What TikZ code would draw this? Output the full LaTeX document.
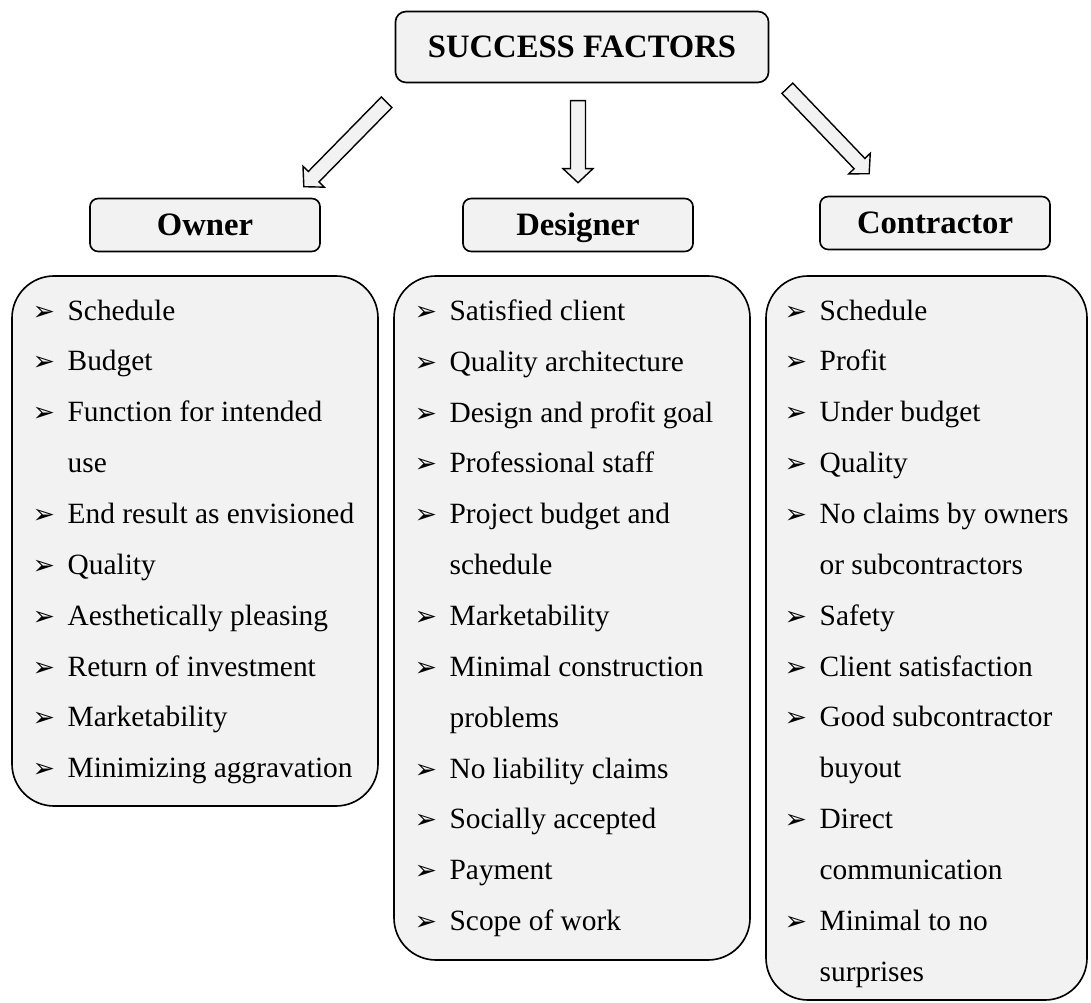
\documentclass[tikz,border=0pt]{standalone}
\usepackage{fontspec}
\setmainfont{Liberation Serif}
\newfontfamily\bulfont{DejaVu Sans}
\usepackage{xcolor}
\usepackage{tikz}
\usetikzlibrary{positioning,fit,calc}

\definecolor{boxgray}{HTML}{F2F2F2}
\newcommand{\itm}{\makebox[15pt][l]{\bulfont\fontsize{11.5}{11}\selectfont ➢}}
\newcommand{\cont}{\hspace*{15pt}}

\begin{document}
\begin{tikzpicture}[
  x=0.4286pt, y=-0.4286pt,
  font=\fontsize{12.6}{21.8}\selectfont,
  title/.style={
    draw,
    fill=boxgray,
    rounded corners=4.5pt,
    line width=0.7pt,
    text height=9.3pt,
    text depth=0pt,
    font=\fontsize{14}{16}\selectfont\bfseries
  },
  head/.style={title, rounded corners=3.5pt, minimum width=98.6pt, minimum height=22.7pt},
  listbox/.style={draw, fill=boxgray, rounded corners=18pt, inner sep=0pt, line width=0.7pt},
  listtext/.style={anchor=north west, align=left, inner sep=0pt},
  blockarrow/.style={draw, fill=boxgray, line width=0.6pt, line join=miter}
]
  \useasboundingbox (0,0) rectangle (1091,1003);

  % heading
  \node[title, minimum width=159.9pt, minimum height=30.4pt] (top) at (582,47) {SUCCESS FACTORS};

  % parties
  \node[head] (owner) at (205,225) {Owner};
  \node[head] (designer) at (578,225) {Designer};
  \node[head] (contractor) at (935,223) {Contractor};

  % lists
  \node[listbox, fit={(12,276) (378,806)}] (ownerbox) {};
  \node[listbox, fit={(394,276) (750,960)}] (designerbox) {};
  \node[listbox, fit={(766,276) (1087,1000)}] (contractorbox) {};

  \node[listtext] (ownerlist) at ($(ownerbox.north west)+(21,24)$) {%
    \itm Schedule\\
    \itm Budget\\
    \itm Function for intended\\
    \cont use\\
    \itm End result as envisioned\\
    \itm Quality\\
    \itm Aesthetically pleasing\\
    \itm Return of investment\\
    \itm Marketability\\
    \itm Minimizing aggravation};
  \node[listtext] (designerlist) at ($(designerbox.north west)+(21,24)$) {%
    \itm Satisfied client\\
    \itm Quality architecture\\
    \itm Design and profit goal\\
    \itm Professional staff\\
    \itm Project budget and\\
    \cont schedule\\
    \itm Marketability\\
    \itm Minimal construction\\
    \cont problems\\
    \itm No liability claims\\
    \itm Socially accepted\\
    \itm Payment\\
    \itm Scope of work};
  \node[listtext] (contractorlist) at ($(contractorbox.north west)+(19,24)$) {%
    \itm Schedule\\
    \itm Profit\\
    \itm Under budget\\
    \itm Quality\\
    \itm No claims by owners\\
    \cont or subcontractors\\
    \itm Safety\\
    \itm Client satisfaction\\
    \itm Good subcontractor\\
    \cont buyout\\
    \itm Direct\\
    \cont communication\\
    \itm Minimal to no\\
    \cont surprises};

  % hollow arrows
  \coordinate (o1) at ($(top.south west)+(-8,19)$);
  \coordinate (o2) at ($(owner.north east)+(-17,-11)$);
  \coordinate (d1) at ($(designer.north)+(0,-97)$);
  \coordinate (d2) at ($(designer.north)+(0,-15)$);
  \coordinate (c1) at ($(top.south east)+(18,5)$);
  \coordinate (c2) at ($(contractor.north west)+(50,-22)$);
  \foreach \s/\t in {o1/o2, d1/d2, c1/c2} {
    \coordinate (h) at ($(\t)!6pt!(\s)$);
    \draw[blockarrow] ($(\s)!3.2pt!90:(\t)$) -- ($(h)!3.2pt!90:(\t)$)
      -- ($(h)!6.4pt!90:(\t)$) -- (\t) -- ($(h)!6.4pt!-90:(\t)$)
      -- ($(h)!3.2pt!-90:(\t)$) -- ($(\s)!3.2pt!-90:(\t)$) -- cycle;
  }
\end{tikzpicture}
\end{document}
